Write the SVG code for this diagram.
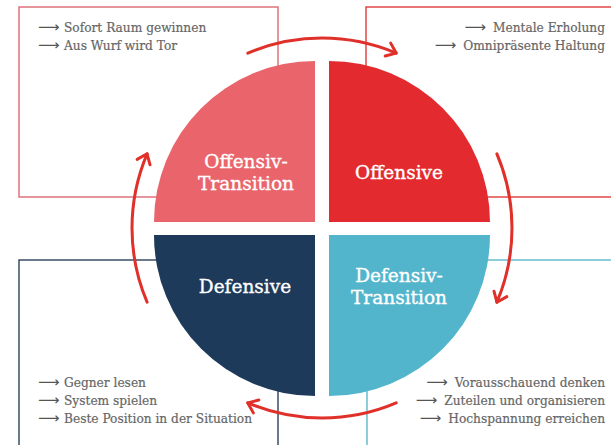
<svg xmlns="http://www.w3.org/2000/svg" width="611" height="445" viewBox="0 0 611 445">
<style>
.box{fill:none;stroke-width:1.4}
.lbl{font-family:"DejaVu Serif","Liberation Serif",serif;font-size:18.5px;fill:#ffffff;stroke:#ffffff;stroke-width:0.35;text-anchor:middle}
.itm{font-family:"DejaVu Serif","Liberation Serif",serif;font-size:12.2px;fill:#666666;stroke:#666666;stroke-width:0.2}
.ar{font-family:"DejaVu Sans","Noto Sans",sans-serif;font-size:15px;fill:#555555;stroke:none}
.cyc{fill:none;stroke:#e0302a;stroke-width:3;stroke-linecap:round}
</style>
<defs>
<marker id="ah" markerUnits="userSpaceOnUse" markerWidth="16" markerHeight="20" viewBox="-13 -10 16 20" refX="0" refY="0" orient="auto" overflow="visible">
<path d="M-9,-7 L0,0 L-9,7" fill="none" stroke="#e0302a" stroke-width="3" stroke-linecap="round" stroke-linejoin="round"/>
</marker>
</defs>
<rect width="611" height="445" fill="#ffffff"/>

<g id="box-offensiv-transition">
<rect class="box" x="19" y="7" width="259" height="190" stroke="#dc6a70"/>
<text class="itm" y="32"><tspan class="ar" x="38">⟶</tspan><tspan x="64">Sofort Raum gewinnen</tspan></text>
<text class="itm" y="50"><tspan class="ar" x="38">⟶</tspan><tspan x="64">Aus Wurf wird Tor</tspan></text>
</g>
<g id="box-offensive">
<rect class="box" x="366" y="7" width="260" height="190" stroke="#e03a3a"/>
<text class="itm" x="605" y="32" text-anchor="end"><tspan class="ar">⟶</tspan><tspan dx="7">Mentale Erholung</tspan></text>
<text class="itm" x="605" y="50" text-anchor="end"><tspan class="ar">⟶</tspan><tspan dx="7">Omnipräsente Haltung</tspan></text>
</g>
<g id="box-defensive">
<rect class="box" x="19" y="260" width="259" height="200" stroke="#2c405c"/>
<text class="itm" y="387"><tspan class="ar" x="38">⟶</tspan><tspan x="64">Gegner lesen</tspan></text>
<text class="itm" y="405"><tspan class="ar" x="38">⟶</tspan><tspan x="64">System spielen</tspan></text>
<text class="itm" y="423"><tspan class="ar" x="38">⟶</tspan><tspan x="64">Beste Position in der Situation</tspan></text>
</g>
<g id="box-defensiv-transition">
<rect class="box" x="367" y="260" width="260" height="200" stroke="#5cb8cc"/>
<text class="itm" x="605" y="387" text-anchor="end"><tspan class="ar">⟶</tspan><tspan dx="7">Vorausschauend denken</tspan></text>
<text class="itm" x="605" y="405" text-anchor="end"><tspan class="ar">⟶</tspan><tspan dx="7">Zuteilen und organisieren</tspan></text>
<text class="itm" x="605" y="423" text-anchor="end"><tspan class="ar">⟶</tspan><tspan dx="7">Hochspannung erreichen</tspan></text>
</g>

<g id="node-offensiv-transition">
<path d="M315,222 L154,222 A161,161 0 0 1 315,61 Z" fill="#e9646b"/>
<text class="lbl" x="246" y="168">Offensiv-</text>
<text class="lbl" x="246" y="190">Transition</text>
</g>
<g id="node-offensive">
<path d="M329,222 L329,61 A161,161 0 0 1 490,222 Z" fill="#e32b2f"/>
<text class="lbl" x="399" y="179">Offensive</text>
</g>
<g id="node-defensiv-transition">
<path d="M329,235 L490,235 A161,161 0 0 1 329,396 Z" fill="#52b5cc"/>
<text class="lbl" x="399" y="282">Defensiv-</text>
<text class="lbl" x="399" y="304">Transition</text>
</g>
<g id="node-defensive">
<path d="M315,235 L315,396 A161,161 0 0 1 154,235 Z" fill="#1e3a5a"/>
<text class="lbl" x="245" y="293">Defensive</text>
</g>

<g id="connectors">
<path class="cyc" d="M247.8,53.1 A190,190 0 0 1 396.2,53.1" marker-end="url(#ah)"/>
<path class="cyc" d="M496.9,153.8 A190,190 0 0 1 496.9,302.2" marker-end="url(#ah)"/>
<path class="cyc" d="M396.2,402.9 A190,190 0 0 1 247.8,402.9" marker-end="url(#ah)"/>
<path class="cyc" d="M147.1,302.2 A190,190 0 0 1 147.1,153.8" marker-end="url(#ah)"/>
</g>
</svg>
